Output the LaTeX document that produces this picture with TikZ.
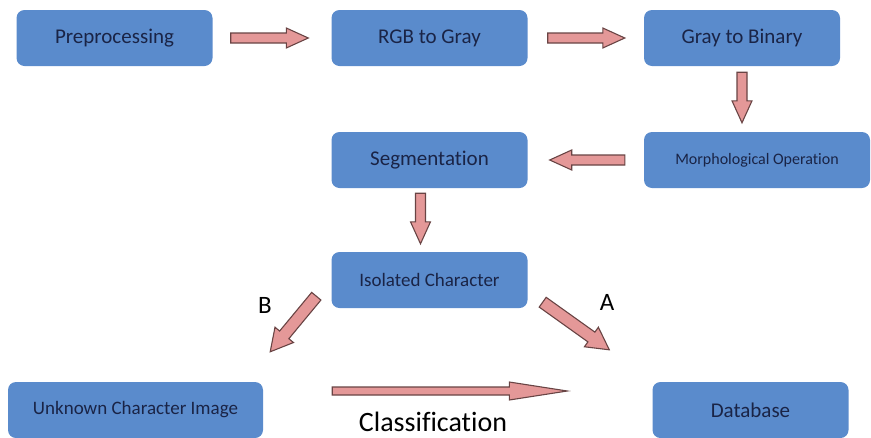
\documentclass[tikz,border=0pt]{standalone}
\usepackage{fontspec}
\setmainfont{Carlito}[Ligatures=NoCommon]
\usetikzlibrary{calc}

\definecolor{boxblue}{RGB}{90,139,204}
\definecolor{boxtext}{RGB}{26,36,70}
\definecolor{arrowpink}{RGB}{228,152,152}
\definecolor{arrowedge}{RGB}{105,68,68}

\tikzset{
  shaft/.store in=\shaft, headw/.store in=\headw, headlen/.store in=\headlen,
  shaft=5pt, headw=10pt, headlen=22pt,
  stage/.style={rectangle, rounded corners=8pt, fill=boxblue, text=boxtext, inner sep=0pt,
    minimum width=196pt, minimum height=56pt, font=\fontsize{21}{25}\selectfont},
  fatarrow/.style={fill=arrowpink, draw=arrowedge, line width=1.1pt, line join=miter},
  wide/.style={shaft=6pt, headw=12pt, headlen=22pt},
  long/.style={shaft=4pt, headw=9pt, headlen=58pt},
  tag/.style={font=\fontsize{25}{28}\selectfont}
}

% block arrow from #2 to #3, cut back by #4 at the tail and #5 at the tip
\newcommand{\blockarrow}[5][]{%
  \path ($(#2)!#4!(#3)$) coordinate (bt) ($(#3)!#5!(#2)$) coordinate (bh);
  \draw[fatarrow,#1] ($(bt)!\shaft!90:(bh)$) -- ($(bh)!\headlen!(bt)!\shaft!-90:(bt)$)
    -- ($(bh)!\headlen!(bt)!\headw!-90:(bt)$) -- (bh) -- ($(bh)!\headlen!(bt)!\headw!90:(bt)$)
    -- ($(bh)!\headlen!(bt)!\shaft!90:(bt)$) -- ($(bt)!\shaft!-90:(bh)$) -- cycle;
}

\begin{document}
\begin{tikzpicture}[x = 1pt, y = -1pt]
\useasboundingbox (0,0) rectangle (871,437);
\node[stage] (pre) at (114.5,38) {Preprocessing};
\node[stage] (rgb) at (429.5,38) {RGB to Gray};
\node[stage] (gray) at (742,38) {Gray to Binary};
\node[stage, minimum width=226pt, font=\fontsize{16}{19}\selectfont] (morph) at (757,160) {Morphological Operation};
\node[stage] (seg) at (429.5,160) {Segmentation};
\node[stage, font=\fontsize{19}{22}\selectfont] (iso) at (429.5,280) {Isolated Character};
\node[stage, minimum width=255pt, font=\fontsize{19}{22}\selectfont] (unk) at (135.5,410) {Unknown Character Image};
\node[stage] (db) at (750.5,410) {Database};

\coordinate (morphtop) at (gray.south |- morph.north);
\coordinate (segout) at ($(seg.south)+(-9,0)$);
\coordinate (isoin) at (segout |- iso.north);
\coordinate (bTail) at ($(iso.south west)+(-15,-12)$);
\coordinate (bTip) at ($(unk.north east)+(7,-30)$);
\coordinate (aTail) at ($(iso.south east)+(15,-6)$);
\coordinate (aTip) at ($(db.north west)+(-43,-32)$);
\coordinate (cTail) at ($(unk.east)+(69,-19)$);
\coordinate (cTip) at ($(db.west)+(-85,-19)$);

\blockarrow{pre.east}{rgb.west}{18pt}{23pt}
\blockarrow{rgb.east}{gray.west}{20pt}{19pt}
\blockarrow{gray.south}{morphtop}{6pt}{9pt}
\blockarrow{morph.west}{seg.east}{19pt}{22pt}
\blockarrow{segout}{isoin}{5pt}{8pt}
\blockarrow[wide]{bTail}{bTip}{0pt}{0pt}
\blockarrow[wide]{aTail}{aTip}{0pt}{0pt}
\blockarrow[long]{cTail}{cTip}{0pt}{0pt}

\node[tag] (b) at (265,305) {B};
\node[tag] (a) at (607,302) {A};
\node[font=\fontsize{28}{32}\selectfont] (cls) at (433,422) {Classification};
\end{tikzpicture}
\end{document}
